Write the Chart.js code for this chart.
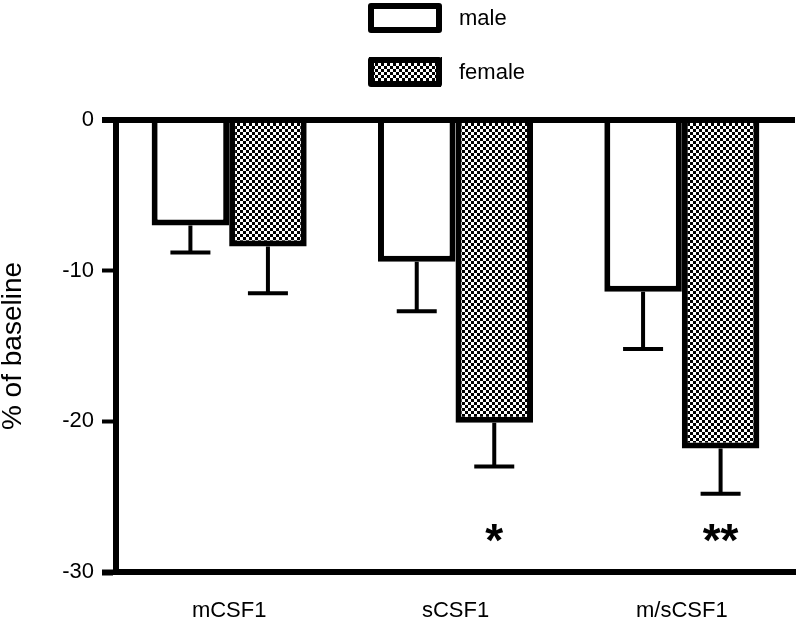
<!DOCTYPE html>
<html>
<head>
<meta charset="utf-8">
<script src="https://cdn.jsdelivr.net/npm/chart.js@4/dist/chart.umd.min.js"></script>
<style>
  html, body { margin: 0; padding: 0; background: #fff; }
  #wrap { width: 800px; height: 621px; }
</style>
</head>
<body>
<div id="wrap"><canvas id="csfChart" width="800" height="621"></canvas></div>
<script>
// data
const categories = ['mCSF1', 'sCSF1', 'm/sCSF1'];
const maleValues = [-7.0, -9.4, -11.4];
const maleErrors = [1.8, 3.3, 3.8];
const femaleValues = [-8.4, -20.1, -21.8];
const femaleErrors = [3.1, 2.9, 3.0];
const significance = ['', '*', '**'];
const starLevel = -27.6;
const yTicks = [0, -10, -20, -30];

const FONT = 'Arial, "Liberation Sans", sans-serif';

// checkerboard fill for the female bars
function makeChecker() {
    const c = document.createElement('canvas');
    c.width = 6; c.height = 6;
    const g = c.getContext('2d');
    g.fillStyle = '#fff';
    g.fillRect(0, 0, 6, 6);
    g.fillStyle = '#000';
    g.fillRect(0, 0, 3, 3);
    g.fillRect(3, 3, 3, 3);
    return g.createPattern(c, 'repeat');
}
const checker = makeChecker();

const errorBars = {
    id: 'errorBars',
    afterDatasetsDraw(chart) {
        const ctx = chart.ctx;
        const y = chart.scales.y;
        const errs = [maleErrors, femaleErrors];
        ctx.save();
        ctx.strokeStyle = '#000';
        ctx.lineWidth = 4;
        chart.data.datasets.forEach((ds, i) => {
            chart.getDatasetMeta(i).data.forEach((bar, j) => {
                const v = ds.data[j];
                const yb = y.getPixelForValue(v);
                const ye = y.getPixelForValue(v - errs[i][j]);
                ctx.beginPath();
                ctx.moveTo(bar.x, yb);
                ctx.lineTo(bar.x, ye);
                ctx.moveTo(bar.x - 20, ye);
                ctx.lineTo(bar.x + 20, ye);
                ctx.stroke();
            });
        });
        // significance stars under the female bars
        ctx.fillStyle = '#000';
        ctx.font = 'bold 46px ' + FONT;
        ctx.textAlign = 'center';
        ctx.textBaseline = 'middle';
        chart.getDatasetMeta(1).data.forEach((bar, j) => {
            if (significance[j]) {
                ctx.fillText(significance[j], bar.x, y.getPixelForValue(starLevel) + 7);
            }
        });
        ctx.restore();
    }
};

const boxLegend = {
    id: 'boxLegend',
    afterDraw(chart) {
        const ctx = chart.ctx;
        ctx.save();
        chart.data.datasets.forEach((ds, i) => {
            const top = 3 + i * 54;
            ctx.fillStyle = ds.backgroundColor;
            ctx.fillRect(369, top, 73, 30);
            ctx.lineWidth = 6;
            ctx.lineJoin = 'round';
            ctx.strokeStyle = '#000';
            ctx.strokeRect(371, top + 3, 68, 24);
            ctx.fillStyle = '#000';
            ctx.font = '22px ' + FONT;
            ctx.textAlign = 'left';
            ctx.textBaseline = 'middle';
            ctx.fillText(ds.label, 459, top + 16);
        });
        ctx.restore();
    }
};

new Chart(document.getElementById('csfChart'), {
    type: 'bar',
    data: {
        labels: categories,
        datasets: [
            {
                label: 'male',
                data: maleValues,
                backgroundColor: '#ffffff',
                borderColor: '#000',
                borderWidth: 6
            },
            {
                label: 'female',
                data: femaleValues,
                backgroundColor: checker,
                borderColor: '#000',
                borderWidth: 6
            }
        ]
    },
    options: {
        responsive: false,
        animation: false,
        layout: { padding: { top: 120, right: 5, left: 0, bottom: 0 } },
        datasets: {
            bar: { barPercentage: 1, categoryPercentage: 0.685 }
        },
        plugins: {
            legend: { display: false },
            tooltip: { enabled: false }
        },
        scales: {
            x: {
                afterFit(scale) { scale.height = 49; },
                grid: { display: false, drawTicks: false },
                border: { display: true, color: '#000', width: 6 },
                ticks: { color: '#000', font: { family: FONT, size: 22 }, padding: 26 }
            },
            y: {
                min: -30,
                max: 0,
                afterFit(scale) { scale.width = 116; },
                afterBuildTicks(scale) { scale.ticks = yTicks.map(v => ({ value: v })); },
                grid: {
                    color: c => c.tick && c.tick.value === 0 ? '#000' : 'rgba(0,0,0,0)',
                    lineWidth: c => c.tick && c.tick.value === 0 ? 6 : 1,
                    tickColor: '#000',
                    tickWidth: c => c.tick && (c.tick.value === 0 || c.tick.value === -30) ? 6 : 4,
                    tickLength: 14
                },
                border: { display: true, color: '#000', width: 6 },
                ticks: { color: '#000', font: { family: FONT, size: 22 }, padding: 8 },
                title: {
                    display: true,
                    text: '% of baseline',
                    color: '#000',
                    font: { family: FONT, size: 28 },
                    padding: { top: -4, bottom: 0 }
                }
            }
        }
    },
    plugins: [errorBars, boxLegend]
});
</script>
</body>
</html>
